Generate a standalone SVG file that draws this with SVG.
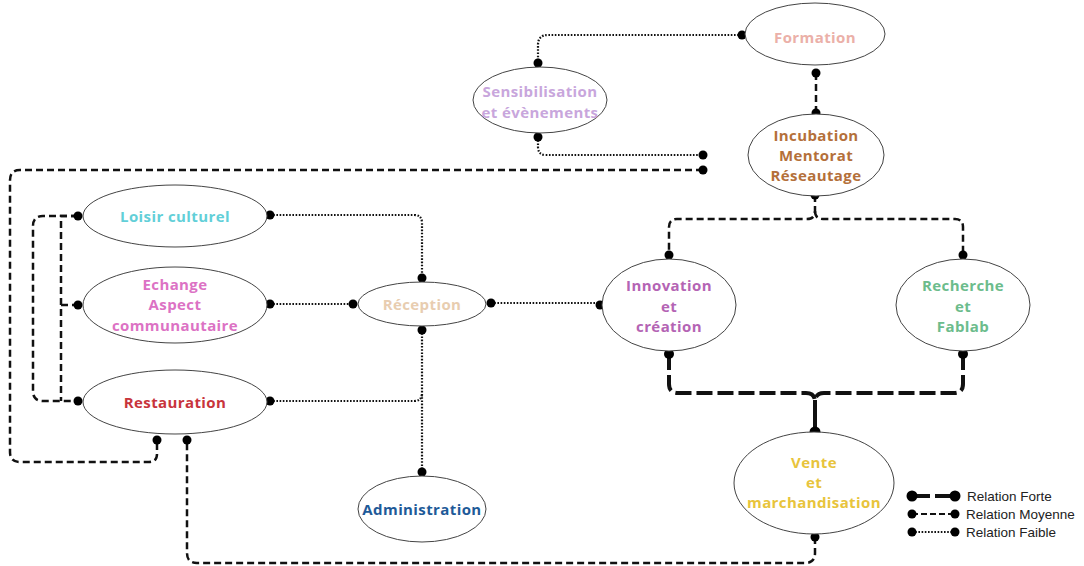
<svg xmlns="http://www.w3.org/2000/svg" width="1084" height="566" viewBox="0 0 1084 566">
<style>
.n ellipse{fill:#fff;stroke:#444;stroke-width:1}
.n text{font-family:"Open Sans","Liberation Sans",sans-serif;font-weight:700;font-size:15px;letter-spacing:0.4px;text-anchor:middle;dominant-baseline:central}
.dot{stroke:none;fill:#000}
.weak{fill:none;stroke:#111;stroke-width:2.2;stroke-dasharray:1.6 1.6}
.mid{fill:none;stroke:#111;stroke-width:2.5;stroke-dasharray:7 4}
.strong{fill:none;stroke:#111;stroke-width:4;stroke-dasharray:16 5}
.solid{fill:none;stroke:#111;stroke-width:4}
.leg{font-family:"Liberation Sans",Arial,sans-serif;font-size:13.5px;fill:#222;dominant-baseline:central}
</style>
<rect width="1084" height="566" fill="#fff"/>
<g id="connectors">
<path class="weak" d="M742,35 H548 Q538,35 538,45 V63"/>
<path class="weak" d="M538,137 V147 Q538,155 546,155 H703"/>
<path class="mid" d="M703,170 H20 Q10,170 10,180 V452 Q10,462 20,462 H149 Q157,462 157,454 V440"/>
<path class="mid" d="M816,73 V113"/>
<path class="mid" d="M815,195 V211 Q815,219 807,219 H677 Q669,219 669,227 V255"/>
<path class="mid" d="M815,211 Q815,219 823,219 H955 Q963,219 963,227 V255"/>
<path class="strong" d="M669,354 V384 Q669,393 678,393 H806 Q815,393 815,402"/>
<path class="strong" d="M963,354 V384 Q963,393 954,393 H824 Q815,393 815,402"/>
<path class="solid" d="M815,400 V432 M669,354 V366 M963,354 V366"/>
<path class="mid" d="M815,537 V553 Q815,563 805,563 H197 Q187,563 187,553 V440"/>
<path class="weak" d="M270,215 H414 Q422,215 422,223 V278"/>
<path class="weak" d="M270,304 H353"/>
<path class="weak" d="M422,330 V472"/>
<path class="weak" d="M270,401 H414 Q422,401 422,393"/>
<path class="weak" d="M491,303 H600"/>
<path class="mid" d="M78,216 H43 Q33,216 33,226 V391 Q33,401 43,401 H78"/>
<path class="mid" d="M78,216 H61 V401 M61,305 H78"/>
<g class="dot">
<circle cx="742" cy="35" r="4.5"/><circle cx="538" cy="63" r="4.5"/><circle cx="538" cy="137" r="4.5"/>
<circle cx="703" cy="155" r="4.5"/><circle cx="703" cy="170" r="4.5"/><circle cx="816" cy="73" r="4.5"/>
<circle cx="816" cy="113" r="4.5"/><circle cx="815" cy="195" r="4.5"/><circle cx="669" cy="255" r="4.5"/>
<circle cx="963" cy="255" r="4.5"/><circle cx="669" cy="354" r="5"/><circle cx="963" cy="354" r="5"/>
<circle cx="815" cy="432" r="5.5"/><circle cx="815" cy="537" r="4.5"/><circle cx="187" cy="440" r="4.5"/>
<circle cx="157" cy="440" r="4.5"/><circle cx="270" cy="215" r="4.5"/><circle cx="270" cy="304" r="4.5"/>
<circle cx="270" cy="401" r="4.5"/><circle cx="78" cy="216" r="4.5"/><circle cx="78" cy="305" r="4.5"/>
<circle cx="78" cy="401" r="4.5"/><circle cx="422" cy="278" r="4.5"/><circle cx="353" cy="304" r="4.5"/>
<circle cx="491" cy="303" r="4.5"/><circle cx="422" cy="330" r="4.5"/><circle cx="422" cy="472" r="4.5"/>
<circle cx="600" cy="305" r="4.5"/>
</g>
</g>
<g id="formation" class="n"><ellipse cx="815" cy="34" rx="70" ry="31"/><text x="815" y="37" fill="#ebb0a8">Formation</text></g>
<g id="sensibilisation" class="n"><ellipse cx="540" cy="100" rx="67" ry="33"/><text x="540" y="91" fill="#c8a6dc">Sensibilisation</text><text x="540" y="112" fill="#c8a6dc">et évènements</text></g>
<g id="incubation" class="n"><ellipse cx="816" cy="155" rx="68" ry="41"/><text x="816" y="135" fill="#b4703a">Incubation</text><text x="816" y="155" fill="#b4703a">Mentorat</text><text x="816" y="175" fill="#b4703a">Réseautage</text></g>
<g id="loisir" class="n"><ellipse cx="175" cy="216" rx="92" ry="31"/><text x="175" y="216" fill="#62cfd8">Loisir culturel</text></g>
<g id="echange" class="n"><ellipse cx="175" cy="305" rx="92" ry="38"/><text x="175" y="284" fill="#dc72c4">Echange</text><text x="175" y="304" fill="#dc72c4">Aspect</text><text x="175" y="325" fill="#dc72c4">communautaire</text></g>
<g id="restauration" class="n"><ellipse cx="175" cy="402" rx="92" ry="32"/><text x="175" y="402" fill="#c8343c">Restauration</text></g>
<g id="reception" class="n"><ellipse cx="422" cy="304" rx="64" ry="22"/><text x="422" y="304" fill="#e8cdb0">Réception</text></g>
<g id="administration" class="n"><ellipse cx="422" cy="509" rx="64" ry="33"/><text x="422" y="509" fill="#1e5a98">Administration</text></g>
<g id="innovation" class="n"><ellipse cx="669" cy="305" rx="67" ry="46"/><text x="669" y="285" fill="#b464b4">Innovation</text><text x="669" y="306" fill="#b464b4">et</text><text x="669" y="326" fill="#b464b4">création</text></g>
<g id="recherche" class="n"><ellipse cx="963" cy="305" rx="67" ry="46"/><text x="963" y="285" fill="#6cbc8c">Recherche</text><text x="963" y="306" fill="#6cbc8c">et</text><text x="963" y="326" fill="#6cbc8c">Fablab</text></g>
<g id="vente" class="n"><ellipse cx="814" cy="483" rx="80" ry="51"/><text x="814" y="462" fill="#e8c43c">Vente</text><text x="814" y="482" fill="#e8c43c">et</text><text x="814" y="502" fill="#e8c43c">marchandisation</text></g>
<g id="legend">
<path class="strong" d="M912,496 H955" style="stroke-dasharray:18 5"/>
<path class="mid" d="M912,514 H955" style="stroke-width:2;stroke-dasharray:6 3"/>
<path class="weak" d="M912,532 H955" style="stroke-width:1.8"/>
<circle cx="912" cy="496" r="5.5"/><circle cx="955" cy="496" r="5.5"/>
<circle cx="912" cy="514" r="4.5"/><circle cx="955" cy="514" r="4.5"/>
<circle cx="912" cy="532" r="4.5"/><circle cx="955" cy="532" r="4.5"/>
<text class="leg" x="967" y="496">Relation Forte</text>
<text class="leg" x="966" y="514">Relation Moyenne</text>
<text class="leg" x="966" y="532">Relation Faible</text>
</g>
</svg>
